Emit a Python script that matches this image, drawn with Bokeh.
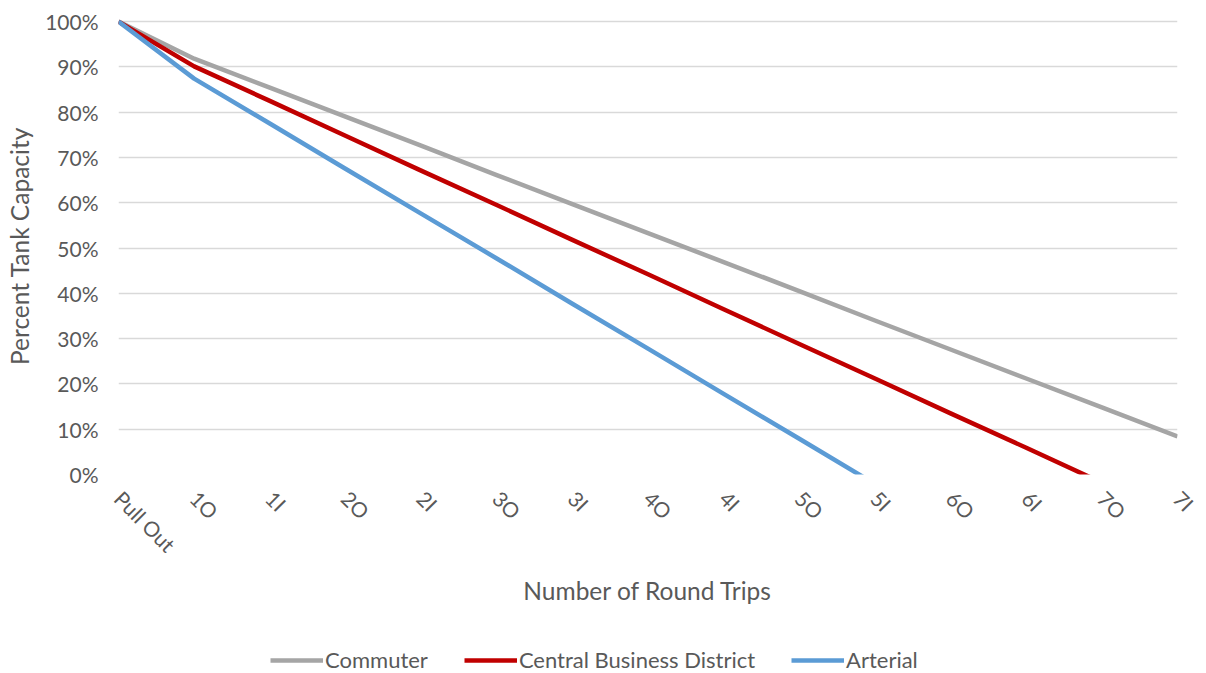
from bokeh.plotting import figure
from bokeh.layouts import column
from bokeh.models import Range1d, FixedTicker, NumeralTickFormatter, Legend, LegendItem
from bokeh.embed import file_html
from bokeh.resources import INLINE
import math

# Trip stages along the route
stages = ["Pull Out", "1O", "1I", "2O", "2I", "3O", "3I", "4O", "4I",
          "5O", "5I", "6O", "6I", "7O", "7I"]

# Remaining tank capacity (fraction) after each stage
commuter = [1.000, 0.918, 0.854, 0.790, 0.726, 0.661, 0.597, 0.533, 0.469,
            0.405, 0.340, 0.276, 0.212, 0.148, 0.084]
cbd = [1.000, 0.901, 0.825, 0.748, 0.671, 0.595, 0.518, 0.442, 0.365,
       0.288, 0.212, 0.135, 0.059, -0.018]
arterial = [1.000, 0.874, 0.775, 0.675, 0.576, 0.477, 0.377, 0.278, 0.178,
            0.079, -0.021]

series_names = ["Commuter", "Central Business District", "Arterial"]
series_values = [commuter, cbd, arterial]
series_colors = ["#A5A5A5", "#C00000", "#5B9BD5"]

FONT = "Lato"
TEXT = "#595959"
LINE_W = 4.5

p = figure(width=1206, height=633, output_backend="svg",
           toolbar_location=None, x_range=Range1d(0, len(stages) - 1),
           y_range=Range1d(0, 1.009))
p.min_border_left = 118
p.min_border_right = 29
p.min_border_top = 17
p.min_border_bottom = 159
p.outline_line_color = None
p.background_fill_color = "white"
p.border_fill_color = "white"

for name, vals, col in zip(series_names, series_values, series_colors):
    p.line(list(range(len(vals))), vals, line_color=col, line_width=LINE_W,
           line_join="round")

# y axis
p.yaxis.ticker = FixedTicker(ticks=[i / 10 for i in range(11)])
p.yaxis.formatter = NumeralTickFormatter(format="0%")
p.yaxis.axis_line_color = None
p.yaxis.major_tick_line_color = None
p.yaxis.minor_tick_line_color = None
p.yaxis.major_tick_out = 0
p.yaxis.major_tick_in = 0
p.yaxis.minor_tick_out = 0
p.yaxis.major_label_standoff = 20
p.yaxis.major_label_text_font = FONT
p.yaxis.major_label_text_font_size = "21px"
p.yaxis.major_label_text_color = TEXT
p.yaxis.axis_label = "Percent Tank Capacity"
p.yaxis.axis_label_text_font = FONT
p.yaxis.axis_label_text_font_size = "24.5px"
p.yaxis.axis_label_text_font_style = "normal"
p.yaxis.axis_label_text_color = TEXT
p.yaxis.axis_label_standoff = 8

# x axis
p.xaxis.ticker = FixedTicker(ticks=list(range(len(stages))))
p.xaxis.major_label_overrides = {i: s for i, s in enumerate(stages)}
p.xaxis.major_label_orientation = -math.pi / 4
p.xaxis.axis_line_color = None
p.xaxis.major_tick_line_color = None
p.xaxis.minor_tick_line_color = None
p.xaxis.major_tick_out = 0
p.xaxis.major_tick_in = 0
p.xaxis.minor_tick_out = 0
p.xaxis.major_label_standoff = 20
p.xaxis.major_label_text_font = FONT
p.xaxis.major_label_text_font_size = "21px"
p.xaxis.major_label_text_color = TEXT
p.xaxis.axis_label = "Number of Round Trips"
p.xaxis.axis_label_text_font = FONT
p.xaxis.axis_label_text_font_size = "24.5px"
p.xaxis.axis_label_text_font_style = "normal"
p.xaxis.axis_label_text_color = TEXT
p.xaxis.axis_label_standoff = 8

p.xgrid.grid_line_color = None
p.ygrid.grid_line_color = "#D9D9D9"
p.ygrid.grid_line_width = 1.3

# legend strip underneath the chart; its series sit outside the visible range
leg = figure(width=1206, height=40, output_backend="svg", toolbar_location=None,
             x_axis_location=None, y_axis_location=None,
             x_range=Range1d(0, len(stages) - 1), y_range=Range1d(5, 6))
leg.min_border = 0
leg.outline_line_color = None
leg.grid.grid_line_color = None
leg.border_fill_color = "white"
items = []
for name, vals, col in zip(series_names, series_values, series_colors):
    r = leg.line(list(range(len(vals))), vals, line_color=col, line_width=LINE_W)
    items.append(LegendItem(label=name, renderers=[r]))

legend = Legend(items=items, orientation="horizontal", location=(152, 0))
legend.glyph_width = 53
legend.glyph_height = 20
legend.label_standoff = 2
legend.spacing = 36
legend.padding = 0
legend.margin = 0
legend.border_line_color = None
legend.background_fill_alpha = 0
legend.label_text_font = FONT
legend.label_text_font_size = "22px"
legend.label_text_color = TEXT
leg.add_layout(legend)

open("out.html", "w").write(file_html(column(p, leg, spacing=0), INLINE))
